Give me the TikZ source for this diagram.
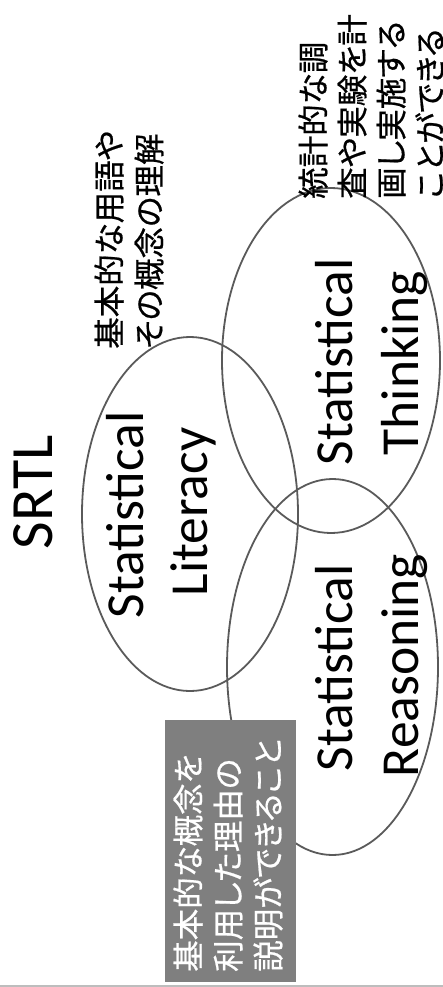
\documentclass[tikz,border=0pt]{standalone}
\usepackage{fontspec}
\setmainfont{Carlito}
\newfontfamily\jp[RawFeature=+palt, FakeBold=0.6]{Noto Sans CJK JP}
\usetikzlibrary{shapes.geometric}

\definecolor{ringgray}{HTML}{5A5A5A}
\definecolor{boxgray}{HTML}{7F7F7F}
\definecolor{rulegray}{HTML}{BDBDBD}

\tikzset{
  ring/.style={ellipse, draw=ringgray, line width=1.8pt, inner sep=0pt},
  latin/.style={rotate=90, anchor=base, inner sep=0pt,
    font=\fontsize{53.5}{64}\selectfont},
  jpline/.style={rotate=90, anchor=base west, inner sep=0pt,
    font=\jp\fontsize{31.5}{39}\selectfont},
}

\begin{document}
\begin{tikzpicture}[x=1pt, y=-1pt]
  \useasboundingbox (0,0) rectangle (443,987);
  \clip (0,0) rectangle (443,987);

  % the three overlapping circles
  \node[ring, minimum width=216pt, minimum height=354pt] (lit) at (190,514) {};
  \node[ring, minimum width=218pt, minimum height=345pt] (think) at (331,360.5) {};
  \node[ring, minimum width=211pt, minimum height=376pt] (reas) at (332.5,667) {};

  % grey note box
  \node[fill=boxgray, minimum width=131pt, minimum height=262pt, inner sep=0pt]
    (note) at (230.5,851) {};

  % rule along the bottom
  \coordinate (ruleL) at (0,986);
  \coordinate (ruleR) at (443,986);
  \draw[rulegray, line width=1.5pt] (ruleL) -- (ruleR);

  % title
  \node[latin, font=\fontsize{60}{72}\selectfont] (title) at (52,492) {SRTL};

  % circle labels
  \node[latin] (lit1) at (143,515) {Statistical};
  \node[latin] (lit2) at (207,512) {Literacy};
  \node[latin] (think1) at (352,362) {Statistical};
  \node[latin] (think2) at (418,363) {Thinking};
  \node[latin] (reas1) at (352,668) {Statistical};
  \node[latin] (reas2) at (418,665.5) {Reasoning};

  % notes
  \node[jpline] (litnote1) at (121,349) {基本的な用語や};
  \node[jpline] (litnote2) at (161,349) {その概念の理解};

  \node[jpline] (thinknote1) at (325,199) {統計的な調};
  \node[jpline] (thinknote2) at (364,199) {査や実験を計};
  \node[jpline] (thinknote3) at (403,199) {画し実施する};
  \node[jpline] (thinknote4) at (442,199) {ことができる};

  \node[jpline, text=white] (boxnote1) at (200,972) {基本的な概念を};
  \node[jpline, text=white] (boxnote2) at (240,972) {利用した理由の};
  \node[jpline, text=white] (boxnote3) at (280,972) {説明ができること};
\end{tikzpicture}
\end{document}
